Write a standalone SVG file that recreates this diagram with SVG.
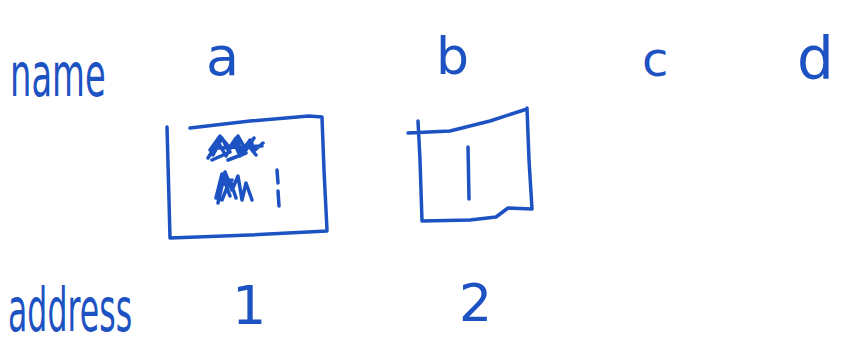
<svg xmlns="http://www.w3.org/2000/svg" width="849" height="350" viewBox="0 0 849 350">
<style>
.t{font-family:"DejaVu Sans",sans-serif;fill:#1d52c2;font-weight:normal}
.s{fill:none;stroke:#1d52c2;stroke-width:3.5;stroke-linecap:round;stroke-linejoin:round}
.sc{fill:none;stroke:#1d52c2;stroke-width:3.5;stroke-linecap:round;stroke-linejoin:round}
</style>
<rect width="849" height="350" fill="#fff"/>
<g id="label-name"><text class="t" transform="translate(10,96) scale(1,1.78)" x="0" y="0" font-size="33.8">name</text></g>
<g id="label-address"><text class="t" transform="translate(8,331) scale(1,1.9)" x="0" y="0" font-size="31.6">address</text></g>
<g id="col-a"><text class="t" x="206" y="75" font-size="54">a</text></g>
<g id="col-b"><text class="t" x="436" y="74" font-size="52">b</text></g>
<g id="col-c"><text class="t" x="642" y="76" font-size="48">c</text></g>
<g id="col-d"><text class="t" x="797" y="79" font-size="58">d</text></g>
<g id="addr-1"><text class="t" x="232" y="324" font-size="54">1</text></g>
<g id="addr-2"><text class="t" x="459" y="321" font-size="52">2</text></g>
<g id="box-a">
<path class="s" d="M167 127 L169 200 L170 238 L250 235 L327 231 M322 118 L324 170 L327 230 M190 128 L250 121 L309 116 L322 117"/>
<path class="sc" d="M213 155 L222 138 L228 150 L236 138 L242 152 L250 140 L255 150 L263 143 M208 158 L218 142 L226 156 L234 142 L240 156 L247 144 L256 155 M210 150 L220 136 L230 148 L238 136 L246 150 L254 138 M216 148 L262 146 M228 160 L246 153 M212 160 L230 152 M218 203 L225 172 L232 190 L238 176 L242 200 L246 183 L252 200 M222 200 L230 180 L236 198 M224 176 L234 186 M216 198 L222 174 L230 196 M220 186 L232 180"/>
<path class="sc" d="M277 170 L278 183 M278 191 L279 206"/>
</g>
<g id="box-b">
<path class="s" d="M418 121 L420 160 L422 221 L470 220 L496 217 L508 208 L532 209 M527 108 L529 160 L532 209 M408 133 L450 131 L490 121 L527 109"/>
<path class="s" d="M468 147 L469 199"/>
</g>
</svg>
